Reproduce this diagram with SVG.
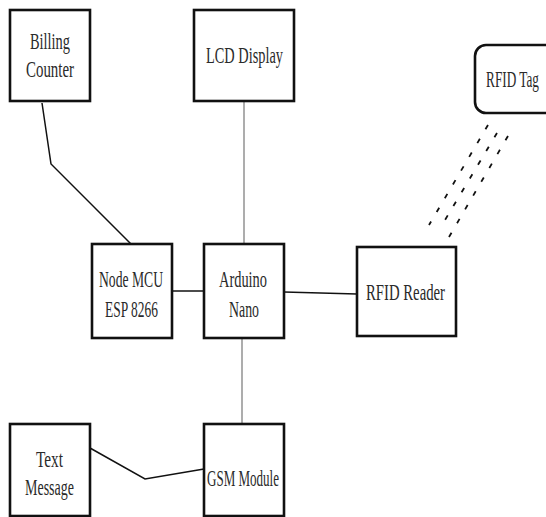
<svg xmlns="http://www.w3.org/2000/svg" width="546" height="517" viewBox="0 0 546 517">
<style>
.box{fill:#fff;stroke:#111;stroke-width:2.6}
.lbl{font-family:"Liberation Serif","Times New Roman",serif;font-size:23px;fill:#2a2a2a;text-anchor:middle}
.ln{fill:none;stroke:#111;stroke-width:1.5}
.gray{fill:none;stroke:#999;stroke-width:1.6}
.dash{fill:none;stroke:#111;stroke-width:1.8;stroke-dasharray:5 11}
</style>
<rect width="546" height="517" fill="#fff"/>
<g id="connectors">
<polyline class="ln" points="42,103 51,164 131,244"/>
<line class="gray" x1="244" y1="101" x2="244" y2="244"/>
<line class="ln" x1="172" y1="291" x2="204" y2="291"/>
<line class="ln" x1="284" y1="292" x2="357" y2="294"/>
<line class="gray" x1="242" y1="338" x2="242" y2="424"/>
<polyline class="ln" points="90,448 145,479 204,469"/>
<line class="dash" x1="488" y1="125" x2="429" y2="225"/>
<line class="dash" x1="497" y1="133" x2="442" y2="225"/>
<line class="dash" x1="508" y1="136" x2="449" y2="237"/>
</g>
<g id="billing">
<rect class="box" x="10" y="10" width="80" height="91"/>
<text class="lbl" x="50" y="49" textLength="40" lengthAdjust="spacingAndGlyphs">Billing</text>
<text class="lbl" x="50" y="77" textLength="48" lengthAdjust="spacingAndGlyphs">Counter</text>
</g>
<g id="lcd">
<rect class="box" x="194" y="10" width="100" height="91"/>
<text class="lbl" x="244.5" y="63" textLength="77" lengthAdjust="spacingAndGlyphs">LCD Display</text>
</g>
<g id="rfidtag">
<rect class="box" x="475" y="45" width="90" height="68" rx="11"/>
<text class="lbl" transform="translate(512.5,87) scale(0.575,1)" x="0" y="0">RFID Tag</text>
</g>
<g id="nodemcu">
<rect class="box" x="92" y="244" width="80" height="94"/>
<text class="lbl" x="131" y="287" textLength="64" lengthAdjust="spacingAndGlyphs">Node MCU</text>
<text class="lbl" x="131.5" y="317" textLength="53" lengthAdjust="spacingAndGlyphs">ESP 8266</text>
</g>
<g id="arduino">
<rect class="box" x="204" y="244" width="80" height="94"/>
<text class="lbl" x="243" y="287" textLength="48" lengthAdjust="spacingAndGlyphs">Arduino</text>
<text class="lbl" x="244" y="317" textLength="30" lengthAdjust="spacingAndGlyphs">Nano</text>
</g>
<g id="rfidreader">
<rect class="box" x="357" y="247" width="99" height="89"/>
<text class="lbl" x="405.5" y="300" textLength="79" lengthAdjust="spacingAndGlyphs">RFID Reader</text>
</g>
<g id="textmessage">
<rect class="box" x="10" y="424" width="80" height="92"/>
<text class="lbl" x="49.5" y="467" textLength="27" lengthAdjust="spacingAndGlyphs">Text</text>
<text class="lbl" x="49.5" y="495" textLength="49" lengthAdjust="spacingAndGlyphs">Message</text>
</g>
<g id="gsm">
<rect class="box" x="204" y="424" width="80" height="92"/>
<text class="lbl" x="243" y="486" textLength="72" lengthAdjust="spacingAndGlyphs">GSM Module</text>
</g>
</svg>
